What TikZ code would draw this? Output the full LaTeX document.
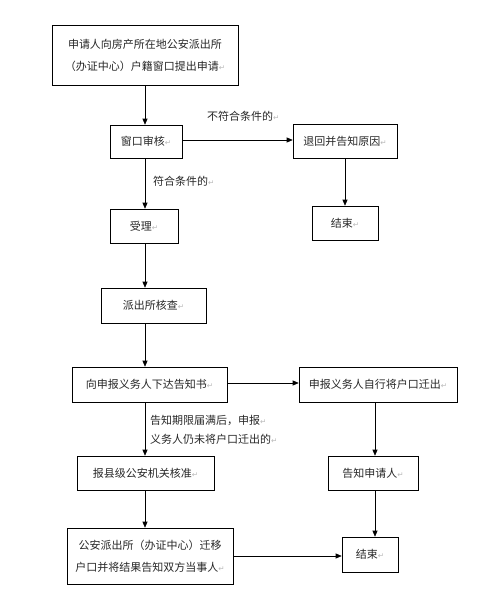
\documentclass[tikz,border=0pt]{standalone}
\usepackage{fontspec}
\newfontfamily\cjk{Noto Sans CJK SC}
\newfontfamily\retfont{DejaVu Sans}
\usetikzlibrary{arrows.meta}
\newcommand\rt{{\retfont\fontsize{7.5}{7.5}\selectfont\color{gray!55}↵}}
\tikzset{
  box/.style={draw=black, line width=0.6pt, inner sep=0pt, align=center,
    font=\cjk\fontsize{11}{22}\selectfont, text=black!85},
  lbl/.style={inner sep=0pt, align=left, font=\cjk\fontsize{11}{19}\selectfont, text=black!85},
  arr/.style={draw=black, line width=0.6pt, -{Triangle[length=6pt,width=5pt]}}
}
\begin{document}
\begin{tikzpicture}[x=1pt,y=-1pt]
\useasboundingbox (0,0) rectangle (500,605);
\coordinate (spine) at (145,0);
\coordinate (rspine) at (375,0);
\node[box, minimum width=186pt, minimum height=60pt] (n1) at (145,55)
  {申请人向房产所在地公安派出所\\（办证中心）户籍窗口提出申请\rt};
\node[box, minimum width=72pt, minimum height=33pt] (n2) at (146,141.5) {窗口审核\rt};
\node[box, minimum width=104pt, minimum height=34pt] (n3) at (345,141) {退回并告知原因\rt};
\node[box, minimum width=66pt, minimum height=34pt] (n4) at (345,223) {结束\rt};
\node[box, minimum width=68pt, minimum height=34pt] (n5) at (144,226) {受理\rt};
\node[box, minimum width=105pt, minimum height=35pt] (n6) at (153.5,305.5) {派出所核查\rt};
\node[box, minimum width=155pt, minimum height=35pt] (n7) at (149.5,384.5) {向申报义务人下达告知书\rt};
\node[box, minimum width=158pt, minimum height=35pt] (n8) at (378,384.5) {申报义务人自行将户口迁出\rt};
\node[box, minimum width=137pt, minimum height=34pt] (n9) at (145.5,473) {报县级公安机关核准\rt};
\node[box, minimum width=90pt, minimum height=34pt] (n10) at (373,473) {告知申请人\rt};
\node[box, minimum width=166pt, minimum height=56pt] (n11) at (150,556)
  {公安派出所（办证中心）迁移\\户口并将结果告知双方当事人\rt};
\node[box, minimum width=56pt, minimum height=35pt] (n12) at (370,554.5) {结束\rt};

\node[lbl, anchor=west] (l1) at (207,116) {不符合条件的\rt};
\node[lbl, anchor=west] (l2) at (153,181) {符合条件的\rt};
\node[lbl, anchor=west] (l3) at (150,429.5) {告知期限届满后，申报\rt\\义务人仍未将户口迁出的\rt};

\draw[arr] (n1.south -| spine) -- (n2.north -| spine);
\draw[arr] (n2.east |- 0,140) -- (n3.west |- 0,140);
\draw[arr] (n3.south -| n4.north) -- (n4.north);
\draw[arr] (n2.south -| spine) -- (n5.north -| spine);
\draw[arr] (n5.south -| spine) -- (n6.north -| spine);
\draw[arr] (n6.south -| spine) -- (n7.north -| spine);
\draw[arr] (n7.east |- 0,383) -- (n8.west |- 0,383);
\draw[arr] (n7.south -| spine) -- (n9.north -| spine);
\draw[arr] (n8.south -| rspine) -- (n10.north -| rspine);
\draw[arr] (n9.south -| spine) -- (n11.north -| spine);
\draw[arr] (n10.south -| rspine) -- (n12.north -| rspine);
\draw[arr] (n11.east) -- (n11.east -| n12.west);
\end{tikzpicture}
\end{document}
